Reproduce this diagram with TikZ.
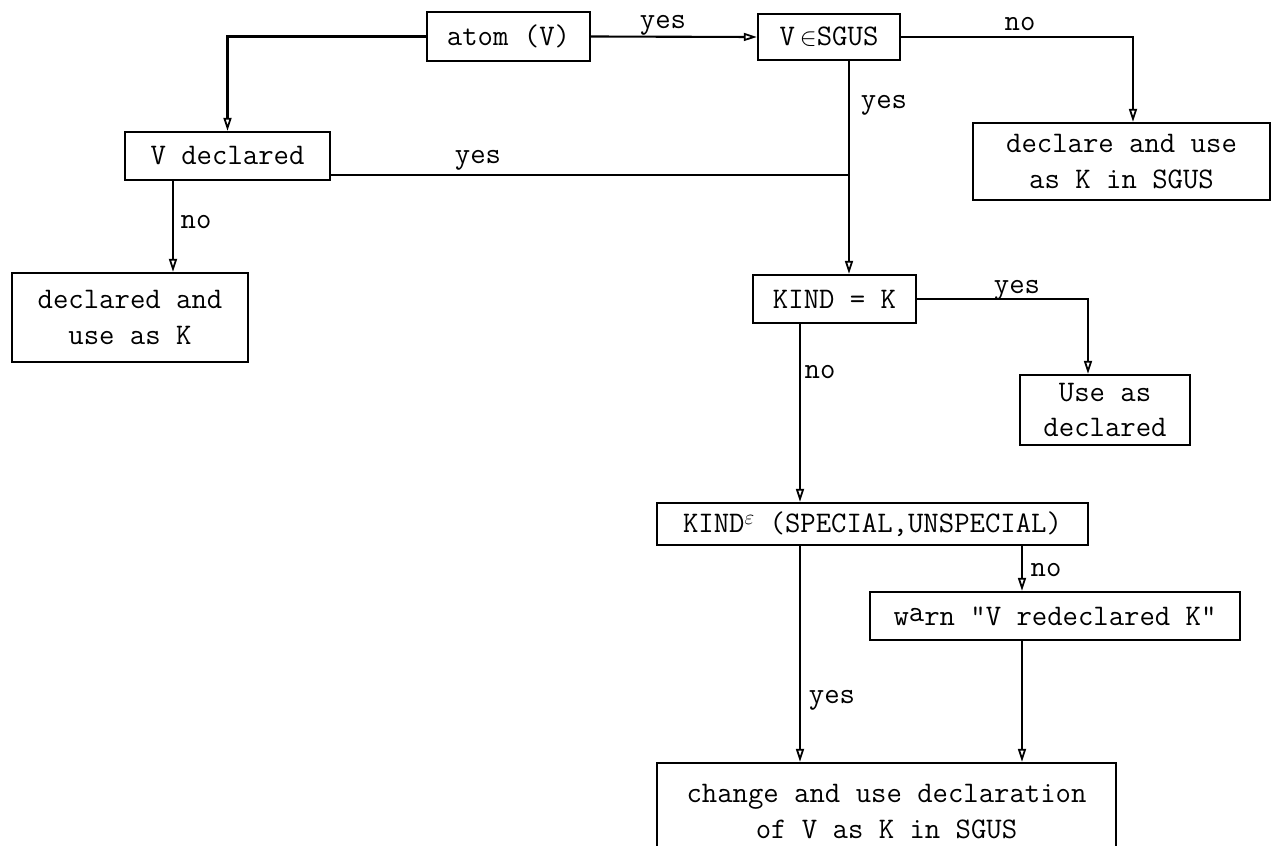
\documentclass[tikz,border=0pt]{standalone}
\usetikzlibrary{arrows.meta,calc}
\newcommand{\tfont}{\ttfamily\fontsize{17}{20}\selectfont}
\begin{document}
\begin{tikzpicture}[x=0.02cm,y=-0.02cm,
  box/.style={draw,line width=1.4pt,inner sep=0pt,align=center,font=\tfont},
  lbl/.style={font=\tfont,inner sep=0pt},
  conn/.style={line width=1.2pt},
  arr/.style={conn,-{Triangle[open,length=0.26cm,width=0.16cm,line width=1pt]}}]
\useasboundingbox (0,0) rectangle (1273,845);
% nodes
\node[box,minimum width=3.26cm,minimum height=0.98cm] (atom) at (508.5,36.5) {atom (V)};
\node[box,minimum width=2.84cm,minimum height=0.92cm] (sgus) at (829,37) {V\,{\fontsize{14}{16}\selectfont$\in$}SGUS};
\node[box,minimum width=4.1cm,minimum height=0.96cm] (vdecl) at (227.5,156) {V declared};
\node[box,minimum width=5.94cm,minimum height=1.54cm] (decl1) at (1121.5,161.5) {declare and use\\as K in SGUS};
\node[box,minimum width=4.72cm,minimum height=1.78cm] (declK) at (130,317.5) {declared and\\use as K};
\node[box,minimum width=3.26cm,minimum height=0.96cm] (kindk) at (834.5,299) {KIND = K};
\node[box,minimum width=3.4cm,minimum height=1.4cm] (useas) at (1105,410) {Use as\\declared};
\node[box,minimum width=8.62cm,minimum height=0.84cm] (kindin) at (872.5,524) {KIND\raisebox{0.6ex}{\fontsize{13}{15}\selectfont$\varepsilon$} (SPECIAL,UNSPECIAL)};
\node[box,minimum width=7.4cm,minimum height=0.96cm] (warn) at (1055,616) {w\raisebox{0.3ex}{a}rn "V redeclared K"};
\node[box,minimum width=9.18cm,minimum height=1.94cm] (change) at (886.5,811.5) {change and use declaration\\of V as K in SGUS};
% helper coordinates
\coordinate (j) at (849,175);
\coordinate (xno1) at (1133,0);
\coordinate (xno2) at (173,0);
\coordinate (xyes3) at (1088,0);
\coordinate (xk) at (800,0);
\coordinate (xw) at (1022,0);
% connectors
\draw[arr] (atom.west) -| (vdecl.north);
\draw[arr] (atom.east) -- (sgus.west);
\draw[arr] (sgus.east) -| (decl1.north -| xno1);
\draw[conn] (sgus.south -| j) -- (j);
\draw[arr] (j) -- (kindk.north -| j);
\draw[conn] (j -| vdecl.east) -- (j);
\draw[arr] (vdecl.south -| xno2) -- (declK.north -| xno2);
\draw[arr] (kindk.east) -| (useas.north -| xyes3);
\draw[arr] (kindk.south -| xk) -- (kindin.north -| xk);
\draw[arr] (kindin.south -| xk) -- (change.north -| xk);
\draw[arr] (kindin.south -| xw) -- (warn.north -| xw);
\draw[arr] (warn.south -| xw) -- (change.north -| xw);
% labels
\node[lbl] (l1) at (663,25) {yes};
\node[lbl] (l2) at (1020,24) {no};
\node[lbl] (l3) at (884,105) {yes};
\node[lbl] (l4) at (478,160) {yes};
\node[lbl] (l5) at (196,222) {no};
\node[lbl] (l6) at (1017,290) {yes};
\node[lbl] (l7) at (820,372) {no};
\node[lbl] (l8) at (1046,570) {no};
\node[lbl] (l9) at (832,700) {yes};
\end{tikzpicture}
\end{document}
